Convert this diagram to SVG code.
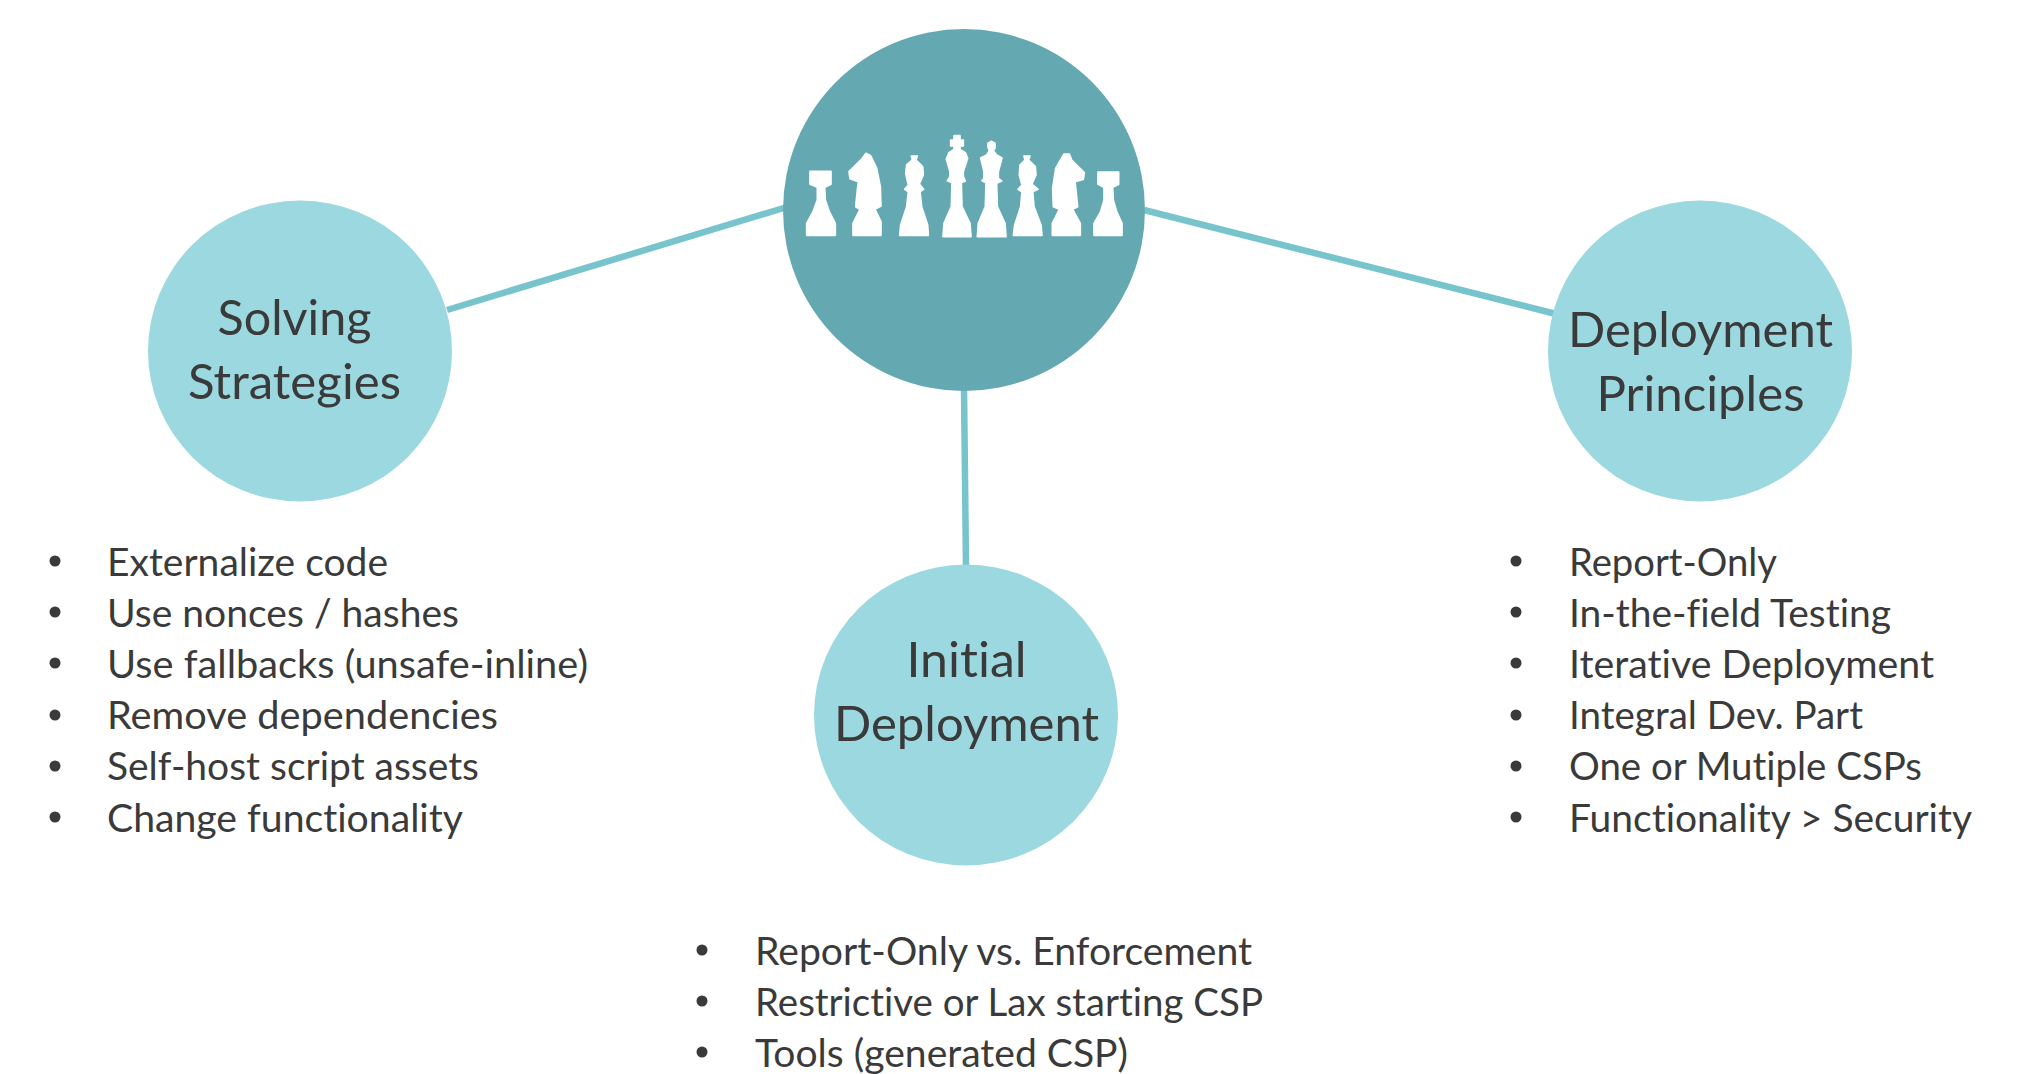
<svg xmlns="http://www.w3.org/2000/svg" width="2030" height="1074" viewBox="0 0 2030 1074">
<style>
text{font-family:Lato,"Open Sans",sans-serif;font-variant-ligatures:none;fill:#3a3a3a}
.big{font-size:48px;text-anchor:middle}
.li{font-size:38px}
.bu{fill:#3a3a3a}
.con{stroke:#78c4cd;stroke-width:6.5;fill:none}
.sub{fill:#9bd8e0}
.piece{fill:#fff;stroke:#fff;stroke-width:5;stroke-linejoin:round}
</style>
<defs><circle id="dot" r="5.5" class="bu"/></defs>
<rect width="2030" height="1074" fill="#fff"/>
<g id="connectors">
<line class="con" x1="447" y1="310" x2="787" y2="207"/>
<line class="con" x1="1144" y1="210" x2="1556" y2="314"/>
<line class="con" x1="964" y1="388" x2="966" y2="567"/>
</g>
<g id="center">
<circle cx="964" cy="210" r="181" fill="#64a9b2"/>
<g transform="translate(780 110) scale(.33333)">
<path class="piece" d="M90 184H153V223L134 232 136 270 148 305 166 340V376H80V340L99 305 112 270V232L90 223Z"/>
<path class="piece" d="M258 130L272 137 290 175 301 230 303 288 285 298 303 335V376H219V340L240 298 227 290 232 240 235 215 210 206 207 185 245 147Z"/>
<path class="piece" d="M394 138H412L408 150 428 170 430 195 418 222 431 238 420 245 425 290 443 345 445 376H359L362 345 380 290 385 245 374 238 385 225 377 190 380 165 397 150Z"/>
<path class="piece" d="M522 77H540V90H550V108H540V118L556 128 563 145 550 185V200L556 213 544 218 546 290 570 340 573 380H489L492 340 514 290 516 218 502 212 510 200V185L499 148 507 128 522 118V108H512V90H522Z"/>
<path class="piece" d="M634 94 645 100V115L640 122 650 135 666 144 655 185V205L665 213 650 220 652 290 675 340 678 380H592L595 340 616 290 618 218 606 212 612 205V185L602 144 620 135 628 122 624 112V100Z"/>
<path class="piece" d="M732 138H750L746 150 766 170 768 195 756 222 774 238 758 245 762 290 783 345 786 376H700L704 345 722 290 726 245 714 238 726 225 718 195 720 165 735 150Z"/>
<path class="piece" d="M852 132H868L875 150 913 188 910 208 885 215 888 240 893 290 878 298 901 340V376H817V340L838 298 820 290 818 235 827 175Z"/>
<path class="piece" d="M954 186H1016V223L998 232 1000 270 1010 305 1026 340V376H942V340L962 305 972 270V232L954 223Z"/>
</g>
</g>
<g id="solving">
<ellipse class="sub" cx="300" cy="351" rx="152" ry="150.5"/>
<text class="big" x="294.500" y="335" textLength="154" lengthAdjust="spacingAndGlyphs">Solving</text>
<text class="big" x="294.500" y="399" textLength="213" lengthAdjust="spacingAndGlyphs">Strategies</text>
</g>
<g id="principles">
<ellipse class="sub" cx="1700" cy="351" rx="152" ry="150.5"/>
<text class="big" x="1700.500" y="347" textLength="265" lengthAdjust="spacingAndGlyphs">Deployment</text>
<text class="big" x="1700.500" y="411" textLength="208" lengthAdjust="spacingAndGlyphs">Principles</text>
</g>
<g id="initial">
<ellipse class="sub" cx="966" cy="715" rx="152" ry="150.5"/>
<text class="big" x="966.500" y="677" textLength="120" lengthAdjust="spacingAndGlyphs">Initial</text>
<text class="big" x="966.500" y="741" textLength="265" lengthAdjust="spacingAndGlyphs">Deployment</text>
</g>
<g id="list-left">
<use href="#dot" x="55" y="561"/><use href="#dot" x="55" y="612"/><use href="#dot" x="55" y="663"/><use href="#dot" x="55" y="715"/><use href="#dot" x="55" y="766"/><use href="#dot" x="55" y="817"/>
<text class="li" x="107" y="576" textLength="281" lengthAdjust="spacingAndGlyphs">Externalize code</text>
<text class="li" x="107" y="627" textLength="352" lengthAdjust="spacingAndGlyphs">Use nonces / hashes</text>
<text class="li" x="107" y="678" textLength="481" lengthAdjust="spacingAndGlyphs">Use fallbacks (unsafe-inline)</text>
<text class="li" x="107" y="729" textLength="391" lengthAdjust="spacingAndGlyphs">Remove dependencies</text>
<text class="li" x="107" y="780" textLength="372" lengthAdjust="spacingAndGlyphs">Self-host script assets</text>
<text class="li" x="107" y="832" textLength="356" lengthAdjust="spacingAndGlyphs">Change functionality</text>
</g>
<g id="list-right">
<use href="#dot" x="1516" y="561"/><use href="#dot" x="1516" y="612"/><use href="#dot" x="1516" y="663"/><use href="#dot" x="1516" y="715"/><use href="#dot" x="1516" y="766"/><use href="#dot" x="1516" y="817"/>
<text class="li" x="1569" y="576" textLength="208" lengthAdjust="spacingAndGlyphs">Report-Only</text>
<text class="li" x="1569" y="627" textLength="322" lengthAdjust="spacingAndGlyphs">In-the-field Testing</text>
<text class="li" x="1569" y="678" textLength="365" lengthAdjust="spacingAndGlyphs">Iterative Deployment</text>
<text class="li" x="1569" y="729" textLength="294" lengthAdjust="spacingAndGlyphs">Integral Dev. Part</text>
<text class="li" x="1569" y="780" textLength="353" lengthAdjust="spacingAndGlyphs">One or Mutiple CSPs</text>
<text class="li" x="1569" y="832" textLength="403" lengthAdjust="spacingAndGlyphs">Functionality &gt; Security</text>
</g>
<g id="list-bottom">
<use href="#dot" x="702" y="950"/><use href="#dot" x="702" y="1001"/><use href="#dot" x="702" y="1052"/>
<text class="li" x="755" y="965" textLength="497" lengthAdjust="spacingAndGlyphs">Report-Only vs. Enforcement</text>
<text class="li" x="755" y="1016" textLength="508" lengthAdjust="spacingAndGlyphs">Restrictive or Lax starting CSP</text>
<text class="li" x="755" y="1067" textLength="373" lengthAdjust="spacingAndGlyphs">Tools (generated CSP)</text>
</g>
</svg>
